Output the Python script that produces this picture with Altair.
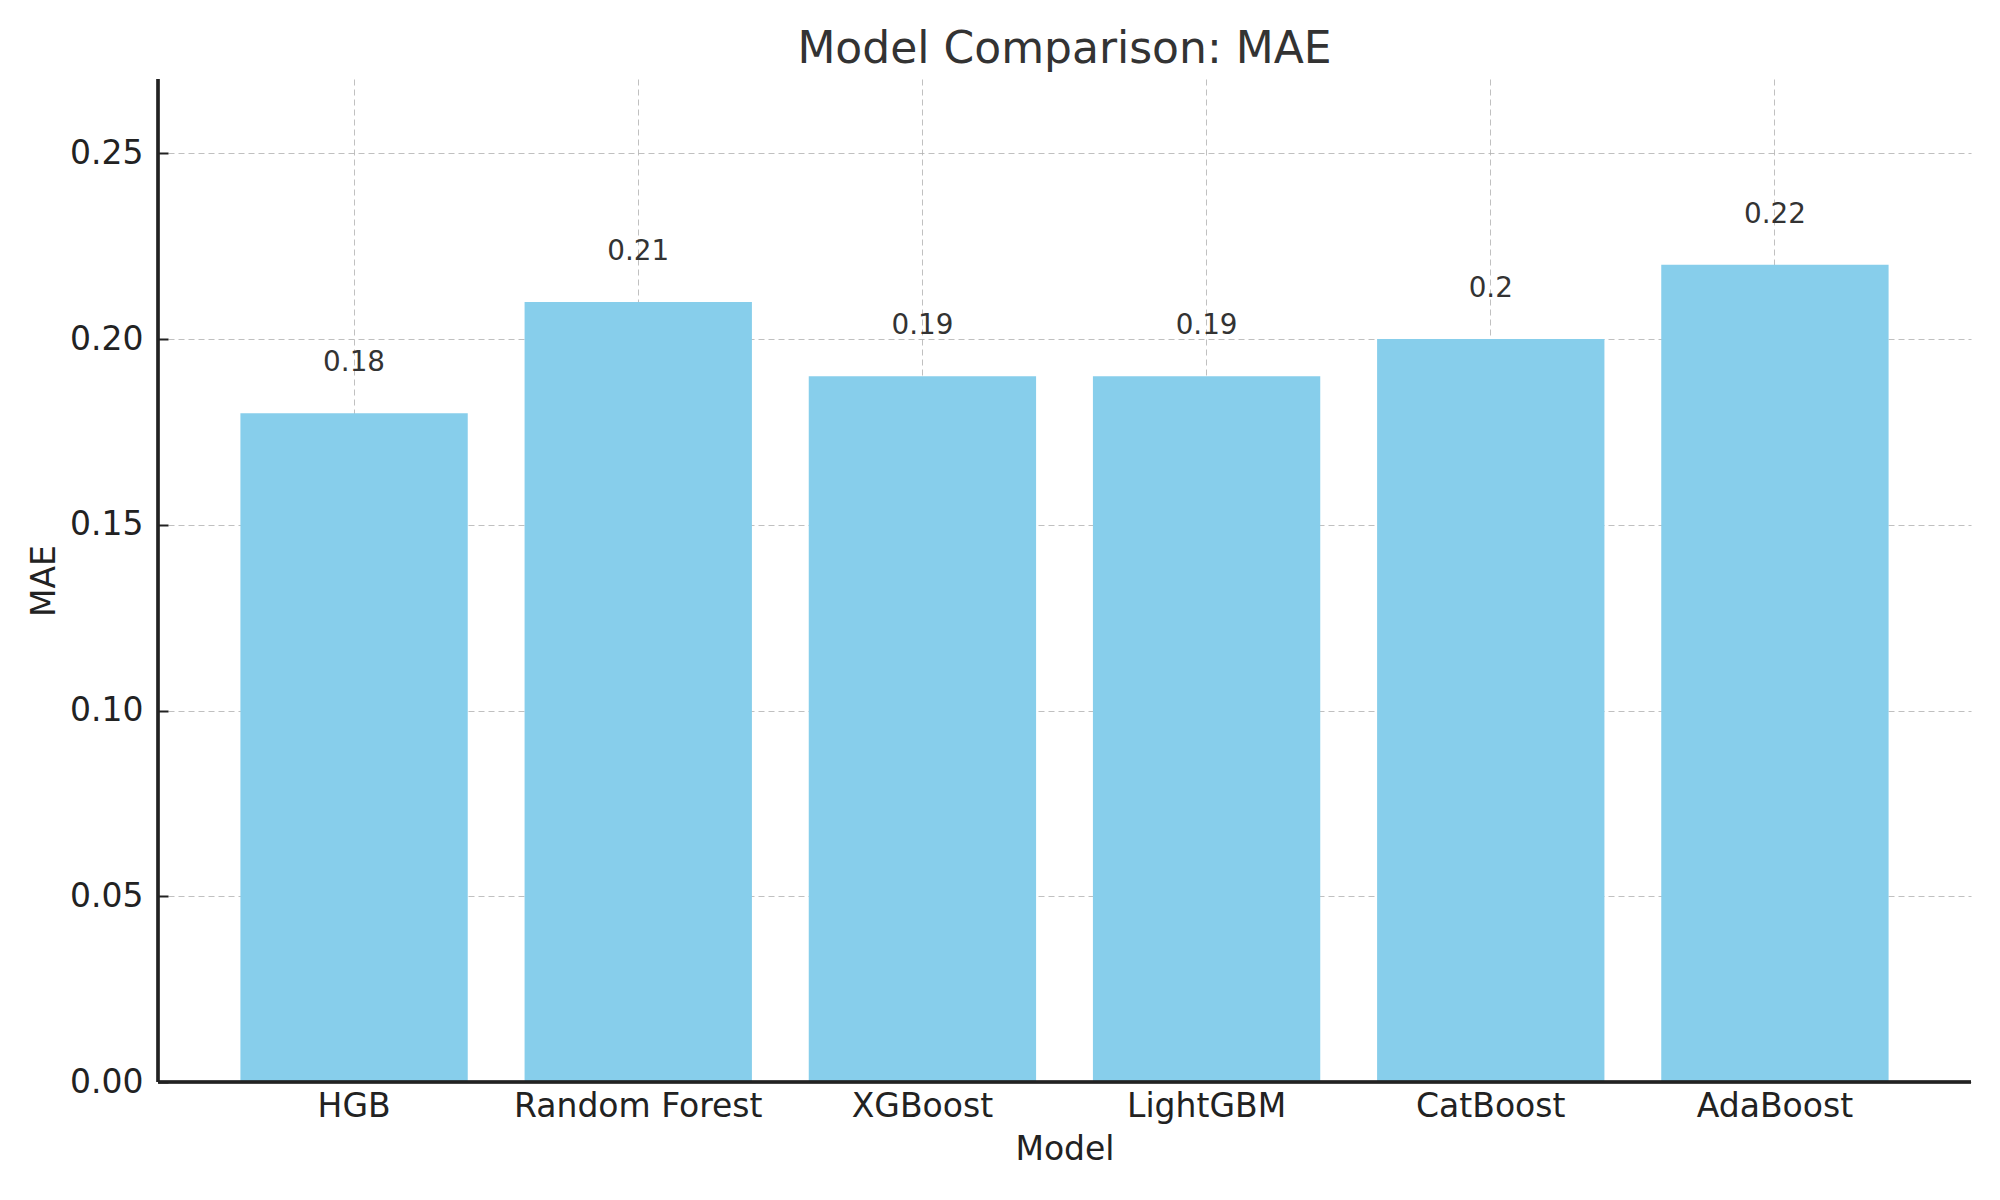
import pandas as pd
import altair as alt

models = ["HGB", "Random Forest", "XGBoost", "LightGBM", "CatBoost", "AdaBoost"]
mae = [0.18, 0.21, 0.19, 0.19, 0.20, 0.22]
mae_labels = ["0.18", "0.21", "0.19", "0.19", "0.2", "0.22"]
y_ticks = [0.0, 0.05, 0.10, 0.15, 0.20, 0.25]

df = pd.DataFrame({"Model": models, "MAE": mae, "label": mae_labels})

FONT = "DejaVu Sans"

x = alt.X(
    "Model:N",
    sort=models,
    title="Model",
    scale=alt.Scale(paddingInner=0.2, paddingOuter=0.29),
    axis=alt.Axis(
        labelAngle=0,
        labelLimit=0,
        domain=False,
        offset=-10,
        tickSize=10,
        tickWidth=2,
        tickColor="#222222",
        labelPadding=8,
        titlePadding=10,
        bandPosition=0.5,
    ),
)
y = alt.Y(
    "MAE:Q",
    title="MAE",
    scale=alt.Scale(domain=[0, 0.27], nice=False),
    axis=alt.Axis(
        values=y_ticks,
        format=".2f",
        domain=False,
        offset=-10,
        tickSize=10,
        tickWidth=2,
        tickColor="#222222",
        labelPadding=15,
        titlePadding=8,
    ),
)

bars = alt.Chart(df).mark_bar(color="#87CEEB").encode(x=x, y=y)

text = alt.Chart(df).mark_text(
    font=FONT, fontSize=27.8, color="#333333", baseline="alphabetic", dy=-42
).encode(x=alt.X("Model:N", sort=models), y="MAE:Q", text="label:N")

# spines: left and bottom only
bottom_spine = alt.Chart(df).mark_rule(color="#222222", strokeWidth=2.5).encode(
    y=alt.datum(0)
)
left_spine = alt.Chart(df).mark_rule(color="#222222", strokeWidth=2.5).encode(
    x=alt.value(0)
)

chart = (
    alt.layer(bars, text, bottom_spine, left_spine)
    .properties(
        width=1813,
        height=1003,
        title=alt.TitleParams(
            "Model Comparison: MAE",
            font=FONT,
            fontSize=44,
            fontWeight="normal",
            color="#333333",
            offset=6,
        ),
        padding={"left": 20, "top": 19, "right": 10, "bottom": 10},
    )
    .configure_view(stroke=None)
    .configure_axis(
        labelFont=FONT,
        titleFont=FONT,
        labelFontSize=33,
        titleFontSize=33,
        titleFontWeight="normal",
        labelColor="#222222",
        titleColor="#222222",
        grid=True,
        gridColor="#b0b0b0",
        gridDash=[6, 4],
        gridWidth=1,
        gridOpacity=0.8,
        zindex=1,
    )
)

chart.save("out.html", embed_options={"renderer": "svg", "actions": False})
